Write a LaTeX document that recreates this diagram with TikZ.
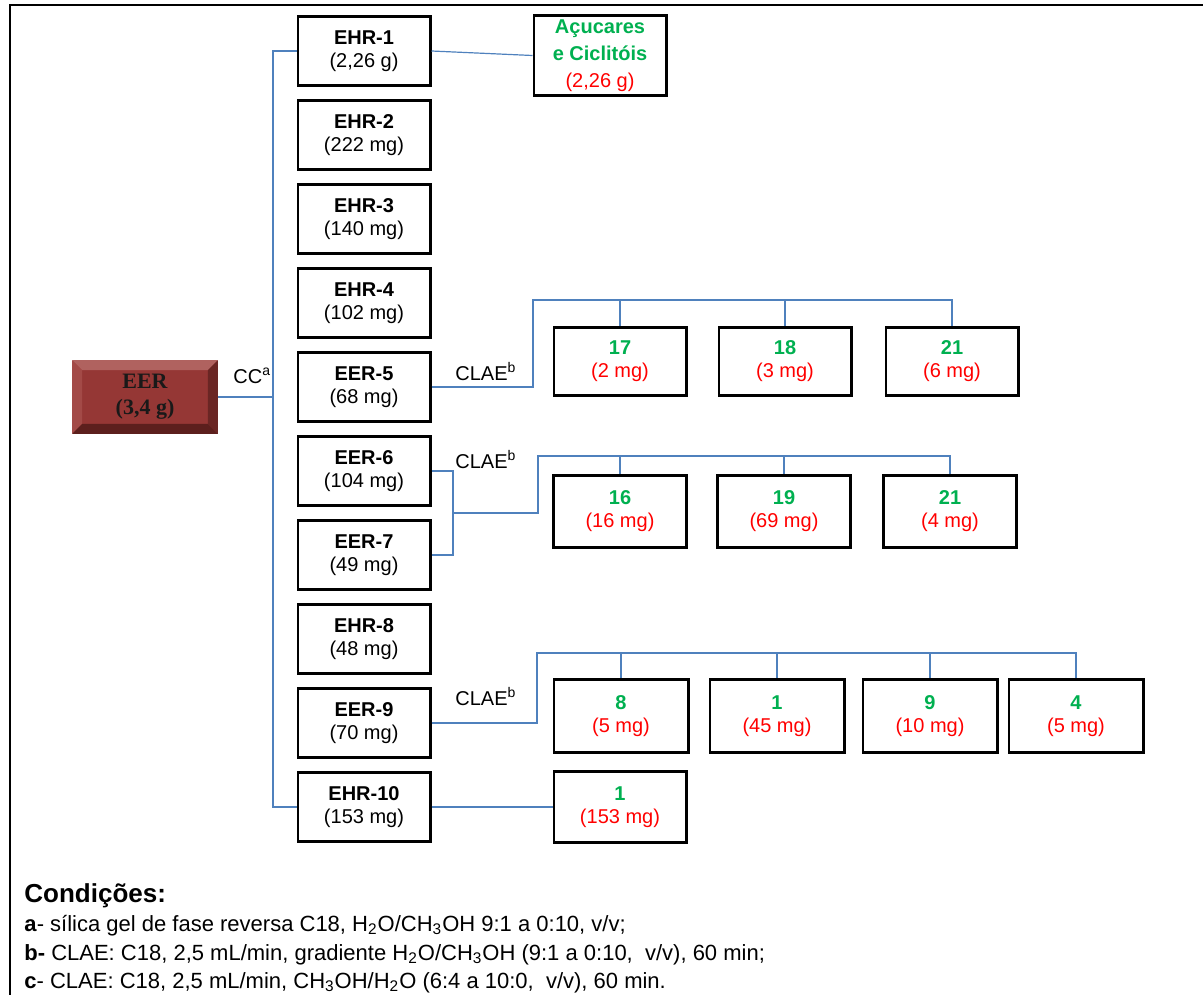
\documentclass[tikz,border=0pt]{standalone}
\usepackage{fontspec}
\setmainfont{Liberation Sans}
\newfontfamily\eerfont{Liberation Serif}
\usepackage{xcolor}
\definecolor{cLine}{HTML}{4F81BD}
\definecolor{cNum}{HTML}{00B050}
\definecolor{cMass}{HTML}{FF0000}
\definecolor{cEER}{HTML}{953735}
\definecolor{cEERtop}{HTML}{B0625F}
\definecolor{cEERleft}{HTML}{A34A47}
\definecolor{cEERright}{HTML}{6A2624}
\definecolor{cEERbottom}{HTML}{5C1F1D}
\usetikzlibrary{positioning,calc}
\tikzset{
  frac-box/.style={draw=black,line width=1.4pt,minimum width=66.1pt,
    minimum height=34.6pt,inner sep=0pt,align=center,
    font=\fontsize{10}{11.5}\selectfont},
  prod-box/.style={frac-box,minimum height=35.6pt},
  root-box/.style={fill=cEER,minimum width=72.5pt,minimum height=36.5pt,
    inner sep=0pt,align=center,text=black!90,
    font=\eerfont\bfseries\fontsize{11}{13}\selectfont},
  link/.style={draw=cLine,line width=0.6pt},
  clae-label/.style={anchor=base west,inner sep=0pt,font=\fontsize{10}{12}\selectfont},
  legend-line/.style={anchor=base west,inner sep=0pt,font=\fontsize{11}{13}\selectfont},
}
\newcommand{\prodtext}[2]{\textbf{\color{cNum}#1}\\{\color{cMass}#2}}

\begin{document}
\begin{tikzpicture}[x=0.5pt,y=-0.5pt,node distance=6pt]
  \useasboundingbox (0,0) rectangle (1203,995);
  % moldura
  \draw[line width=1.4pt] (1203,5) -- (10,5) -- (10,995);

  % extrato e fracoes
  \node[root-box] (eer) at (145,397) {EER\\(3,4 g)};
  \fill[cEERtop] (eer.north west) -- (eer.north east) -- ($(eer.north east)+(-10,10)$) -- ($(eer.north west)+(10,10)$) -- cycle;
  \fill[cEERleft] (eer.north west) -- ($(eer.north west)+(10,10)$) -- ($(eer.south west)+(10,-10)$) -- (eer.south west) -- cycle;
  \fill[cEERright] (eer.north east) -- ($(eer.north east)+(-10,10)$) -- ($(eer.south east)+(-10,-10)$) -- (eer.south east) -- cycle;
  \fill[cEERbottom] (eer.south west) -- ($(eer.south west)+(10,-10)$) -- ($(eer.south east)+(-10,-10)$) -- (eer.south east) -- cycle;

  \node[frac-box] (ehr1) at (364,51) {\textbf{EHR-1}\\(2,26 g)};
  \node[frac-box,below=of ehr1] (ehr2) {\textbf{EHR-2}\\(222 mg)};
  \node[frac-box,below=of ehr2] (ehr3) {\textbf{EHR-3}\\(140 mg)};
  \node[frac-box,below=of ehr3] (ehr4) {\textbf{EHR-4}\\(102 mg)};
  \node[frac-box,below=of ehr4] (eer5) {\textbf{EER-5}\\(68 mg)};
  \node[frac-box,below=of eer5] (eer6) {\textbf{EER-6}\\(104 mg)};
  \node[frac-box,below=of eer6] (eer7) {\textbf{EER-7}\\(49 mg)};
  \node[frac-box,below=of eer7] (ehr8) {\textbf{EHR-8}\\(48 mg)};
  \node[frac-box,below=of ehr8] (eer9) {\textbf{EER-9}\\(70 mg)};
  \node[frac-box,below=of eer9] (ehr10) {\textbf{EHR-10}\\(153 mg)};

  % substancias isoladas
  \node[prod-box,minimum height=40.1pt,font=\fontsize{10}{13.5}\selectfont] (acu) at (600,55.5)
    {\textbf{\color{cNum}Açucares}\\\textbf{\color{cNum}e Ciclitóis}\\{\color{cMass}(2,26 g)}};
  \node[prod-box,minimum height=34.1pt] (c17) at (620,361.5) {\prodtext{17}{(2 mg)}};
  \node[prod-box,minimum height=34.1pt,right=15pt of c17] (c18) {\prodtext{18}{(3 mg)}};
  \node[prod-box,minimum height=34.1pt,right=16pt of c18] (c21a) {\prodtext{21}{(6 mg)}};
  \node[prod-box,minimum height=36.1pt,minimum width=66.6pt] (c16) at (620,511.5) {\prodtext{16}{(16 mg)}};
  \node[prod-box,minimum height=36.1pt,minimum width=66.6pt,right=14pt of c16] (c19) {\prodtext{19}{(69 mg)}};
  \node[prod-box,minimum height=36.1pt,minimum width=66.6pt,right=15pt of c19] (c21b) {\prodtext{21}{(4 mg)}};
  \node[prod-box,minimum height=36.6pt,minimum width=67.1pt] (c8) at (621,716) {\prodtext{8}{(5 mg)}};
  \node[prod-box,minimum height=36.6pt,minimum width=67.1pt,right=9.5pt of c8] (c1a) {\prodtext{1}{(45 mg)}};
  \node[prod-box,minimum height=36.6pt,minimum width=67.1pt,right=8pt of c1a] (c9) {\prodtext{9}{(10 mg)}};
  \node[prod-box,minimum height=36.6pt,minimum width=67.1pt,right=4.5pt of c9] (c4) {\prodtext{4}{(5 mg)}};
  \node[prod-box] (c1b) at (620,807) {\prodtext{1}{(153 mg)}};

  % rotulos das etapas
  \node[clae-label] (cc) at (233,383) {CC\textsuperscript{a}};
  \node[clae-label] (clae5) at (455,380) {CLAE\textsuperscript{b}};
  \node[clae-label] (clae6) at (455,468) {CLAE\textsuperscript{b}};
  \node[clae-label] (clae9) at (455,705) {CLAE\textsuperscript{b}};

  % ligacoes
  \coordinate (bus) at (273,397);
  \coordinate (j5) at (533,300);
  \coordinate (m67) at (453,513);
  \coordinate (j6) at (538,456);
  \coordinate (j9) at (537,653);
  \draw[link] (eer.east) -- (bus);
  \draw[link] (ehr1.west) -| (bus) |- (ehr10.west);
  \draw[link] (ehr1.east) -- (acu.west);
  \draw[link] (eer5.east) -| (j5) -| (c17.north);
  \draw[link] (j5) -| (c18.north);
  \draw[link] (j5) -| (c21a.north);
  \draw[link] (eer6.east) -| (m67) |- (eer7.east);
  \draw[link] (m67) -| (j6) -| (c16.north);
  \draw[link] (j6) -| (c19.north);
  \draw[link] (j6) -| (c21b.north);
  \draw[link] (eer9.east) -| (j9) -| (c8.north);
  \draw[link] (j9) -| (c1a.north);
  \draw[link] (j9) -| (c9.north);
  \draw[link] (j9) -| (c4.north);
  \draw[link] (ehr10.east) -- (c1b.west);

  % condicoes
  \node[anchor=base west,inner sep=0pt,font=\bfseries\fontsize{13}{15}\selectfont] (cond) at (24,902) {Condições:};
  \node[legend-line] (conda) at (24,931) {\textbf{a}- sílica gel de fase reversa C18, H\textsubscript{2}O/CH\textsubscript{3}OH 9:1 a 0:10, v/v;};
  \node[legend-line] (condb) at (24,960) {\textbf{b-} CLAE: C18, 2,5 mL/min, gradiente H\textsubscript{2}O/CH\textsubscript{3}OH (9:1 a 0:10,\ \ v/v), 60 min;};
  \node[legend-line] (condc) at (24,988) {\textbf{c}- CLAE: C18, 2,5 mL/min, CH\textsubscript{3}OH/H\textsubscript{2}O (6:4 a 10:0,\ \ v/v), 60 min.};
\end{tikzpicture}
\end{document}
